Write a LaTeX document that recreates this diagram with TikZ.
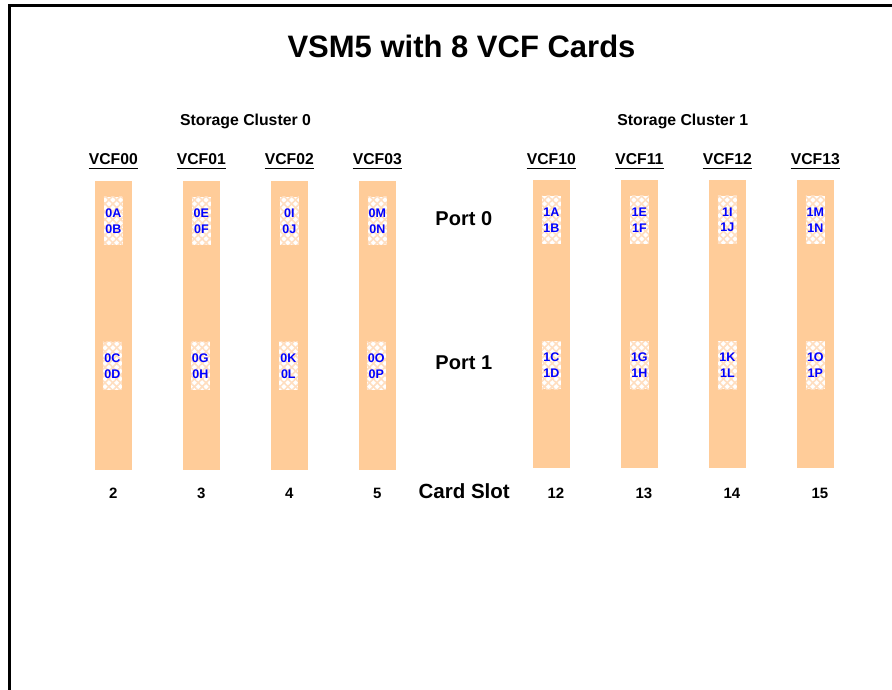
\documentclass[tikz,border=0pt]{standalone}
\usepackage{fontspec}
\setmainfont{Liberation Sans}
\usetikzlibrary{patterns.meta}
\definecolor{peach}{RGB}{255,204,153}
\definecolor{hatch}{RGB}{255,222,192}
\definecolor{portblue}{RGB}{0,0,255}
\begin{document}
\begin{tikzpicture}[x=1pt,y=-1pt,
  bar/.style={fill=peach, draw=none, minimum width=36.7pt, inner sep=0pt, outer sep=0pt, anchor=north west},
  patch/.style={fill=white, draw=none, minimum width=19pt, minimum height=48pt, inner sep=0pt,
     postaction={pattern={Lines[angle=45,distance=5.5pt,line width=1.6pt]}, pattern color=hatch},
     postaction={pattern={Lines[angle=-45,distance=5.5pt,line width=1.6pt]}, pattern color=hatch},
     text=portblue, align=center, font=\fontsize{12.5}{15.7}\selectfont\bfseries},
  lbl/.style={inner sep=0pt, anchor=base, font=\bfseries},
  uline/.style={line width=1.8pt},
]
\useasboundingbox (0,0) rectangle (892,690);
% frame
\draw[line width=3.6pt] (9.3,695) -- (9.3,5.5) -- (897,5.5);
% title
\node[lbl, font=\fontsize{31}{36}\selectfont\bfseries] (title) at (461.5,58) {VSM5 with 8 VCF Cards};
\node[lbl, font=\fontsize{15.8}{18}\selectfont\bfseries] (sc0) at (245.5,126) {Storage Cluster 0};
\node[lbl, font=\fontsize{15.8}{18}\selectfont\bfseries] (sc1) at (682.8,126) {Storage Cluster 1};
\node[lbl, font=\fontsize{20}{24}\selectfont\bfseries] (port0) at (463.8,225.7) {Port 0};
\node[lbl, font=\fontsize{20}{24}\selectfont\bfseries] (port1) at (463.8,369.7) {Port 1};
\node[lbl, font=\fontsize{20.5}{24}\selectfont\bfseries] (slot) at (464.2,498) {Card Slot};
% cluster 0
\foreach \i/\x/\n/\a/\b/\c/\d in {0/95/2/A/B/C/D, 1/183/3/E/F/G/H, 2/271/4/I/J/K/L, 3/359/5/M/N/O/P}{
  \node[bar, minimum height=289pt] (bar0\i) at (\x,181) {};
  \node[patch] (pa0\i) at (\x+18.35,220.9) {0\a\\0\b};
  \node[patch] (pb0\i) at (\x+17.3,365.9) {0\c\\0\d};
  \node[lbl, font=\fontsize{15.7}{18}\selectfont\bfseries] (v0\i) at (\x+18.35,165) {VCF0\i};
  \draw[uline] ([yshift=-3.5pt]v0\i.base west) -- ([yshift=-3.5pt]v0\i.base east);
  \node[lbl, font=\fontsize{15}{18}\selectfont\bfseries] (n0\i) at (\x+18.35,498) {\n};
}
% cluster 1
\foreach \i/\x/\n/\a/\b/\c/\d in {0/533/12/A/B/C/D, 1/621/13/E/F/G/H, 2/709/14/I/J/K/L, 3/797/15/M/N/O/P}{
  \node[bar, minimum height=288pt] (bar1\i) at (\x,180) {};
  \node[patch] (pa1\i) at (\x+18.35,219.9) {1\a\\1\b};
  \node[patch] (pb1\i) at (\x+18.35,365) {1\c\\1\d};
  \node[lbl, font=\fontsize{15.7}{18}\selectfont\bfseries] (v1\i) at (\x+18.35,165) {VCF1\i};
  \draw[uline] ([yshift=-3.5pt]v1\i.base west) -- ([yshift=-3.5pt]v1\i.base east);
  \node[lbl, font=\fontsize{15}{18}\selectfont\bfseries] (n1\i) at (\x+22.85,498) {\n};
}
\end{tikzpicture}
\end{document}
